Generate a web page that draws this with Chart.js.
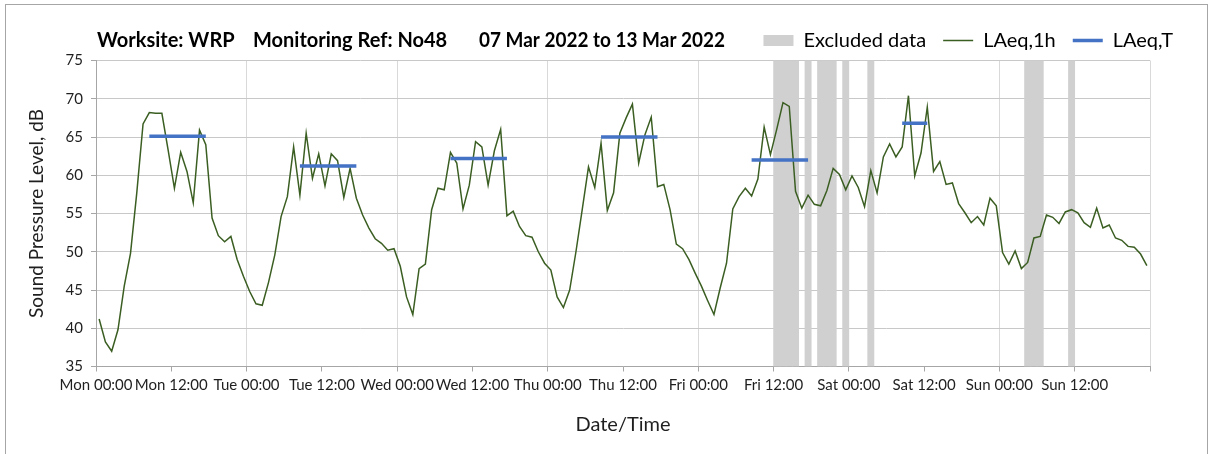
<!DOCTYPE html>
<html>
<head>
<meta charset="utf-8">
<title>Noise monitoring - WRP</title>
<script src="https://cdn.jsdelivr.net/npm/chart.js@4.4.1/dist/chart.umd.min.js"></script>
<style>
  html, body { margin: 0; padding: 0; background: #fff; overflow: hidden; }
  #frame { position: absolute; left: 5px; top: 4px; width: 1201px; height: 460px; border: 1px solid #a6a6a6; }
  #noise-chart { display: block; }
</style>
</head>
<body>
<div id="frame"><canvas id="noise-chart" width="1201" height="449"></canvas></div>
<script>
// hourly LAeq,1h readings, one array per day (00:00 .. 23:00)
const levelsMon = [41.2, 38.2, 37.0, 39.8, 45.5, 49.8, 57.7, 66.7, 68.2, 68.1, 68.1, 63.3, 58.3, 63.0, 60.5, 56.4, 65.9, 64.0, 54.4, 52.1, 51.3, 52.0, 49.0, 46.8];
const levelsTue = [44.8, 43.2, 43.0, 46.0, 49.6, 54.6, 57.2, 63.7, 57.4, 65.5, 59.6, 62.8, 58.6, 62.8, 61.9, 57.1, 60.9, 57.0, 54.8, 53.1, 51.7, 51.1, 50.2, 50.4];
const levelsWed = [48.1, 44.1, 41.8, 47.8, 48.4, 55.5, 58.3, 58.1, 63.0, 61.6, 55.6, 58.7, 64.4, 63.7, 58.7, 63.2, 66.0, 54.7, 55.3, 53.3, 52.1, 51.9, 50.0, 48.5];
const levelsThu = [47.6, 44.1, 42.7, 45.0, 50.0, 55.5, 61.1, 58.4, 64.2, 55.4, 57.7, 65.5, 67.5, 69.3, 61.6, 65.3, 67.6, 58.5, 58.8, 55.5, 51.0, 50.4, 49.0, 47.2];
const levelsFri = [45.5, 43.6, 41.8, 45.3, 48.5, 55.6, 57.2, 58.3, 57.3, 59.5, 66.3, 62.7, 66.0, 69.5, 69.0, 57.9, 55.7, 57.4, 56.2, 56.0, 58.0, 60.9, 60.1, 58.1];
const levelsSat = [59.9, 58.4, 55.9, 60.6, 57.7, 62.4, 64.1, 62.4, 63.7, 70.4, 59.9, 62.9, 68.9, 60.5, 61.8, 58.8, 59.0, 56.3, 55.1, 53.8, 54.6, 53.5, 57.0, 56.0];
const levelsSun = [49.9, 48.4, 50.1, 47.8, 48.6, 51.8, 52.0, 54.8, 54.5, 53.7, 55.2, 55.5, 55.1, 53.8, 53.2, 55.7, 53.1, 53.5, 51.8, 51.5, 50.7, 50.6, 49.7, 48.2];

// LAeq,T over each working period (first hour, last hour, level)
const periodStart = [8, 32, 56, 80, 104, 128];
const periodEnd = [17, 41, 65, 89, 113, 132];
const periodLevel = [65.1, 61.2, 62.2, 65.0, 62.0, 66.8];

// hours flagged as excluded data
const excludedHours = [108, 109, 110, 111, 113, 115, 116, 117, 119, 123, 148, 149, 150, 155];

const tickLabels = ['Mon 00:00', 'Mon 12:00', 'Tue 00:00', 'Tue 12:00', 'Wed 00:00', 'Wed 12:00', 'Thu 00:00',
  'Thu 12:00', 'Fri 00:00', 'Fri 12:00', 'Sat 00:00', 'Sat 12:00', 'Sun 00:00', 'Sun 12:00'];

const headerParts = ['Worksite: WRP', 'Monitoring Ref: No48', '07 Mar 2022 to 13 Mar 2022'];
const headerOffsets = [1, 157, 383];
const headerWidths = [144, 200, 246];

const hourly = [].concat(levelsMon, levelsTue, levelsWed, levelsThu, levelsFri, levelsSat, levelsSun);
const hourlyPoints = hourly.map((v, i) => ({x: i + 0.5, y: v}));

const periodPoints = [];
periodStart.forEach((start, i) => {
    for (let h = start; h <= periodEnd[i]; h++) {
        periodPoints.push({x: h + 0.5, y: periodLevel[i]});
    }
    periodPoints.push({x: periodEnd[i] + 1, y: null});
});

const excludedBars = hourly.map((v, i) => ({x: i + 0.5, y: excludedHours.includes(i) ? [35, 75] : null}));

// title text sits on the same row as the legend
const headerPlugin = {
    id: 'header',
    afterDraw(chart) {
        const ctx = chart.ctx;
        const box = chart.legend.legendHitBoxes[0];
        const y = box.top + box.height / 2;
        ctx.save();
        ctx.font = 'bold 20px Lato';
        ctx.fillStyle = '#000';
        ctx.textBaseline = 'middle';
        headerParts.forEach((text, i) => {
            ctx.fillText(text, chart.chartArea.left + headerOffsets[i], y, headerWidths[i]);
        });
        ctx.restore();
    }
};

Chart.defaults.font.family = 'Lato';
Chart.defaults.color = '#1f1f1f';

new Chart(document.getElementById('noise-chart'), {
    data: {
        datasets: [{
            type: 'bar',
            label: 'Excluded data',
            data: excludedBars,
            backgroundColor: '#d0d0d0',
            borderWidth: 0,
            barPercentage: 1,
            categoryPercentage: 1,
            pointStyle: 'rect',
            order: 2
        }, {
            type: 'line',
            label: 'LAeq,1h',
            data: hourlyPoints,
            borderColor: '#3b5e22',
            borderWidth: 1.5,
            pointRadius: 0,
            pointStyle: 'line',
            pointBorderColor: '#3b5e22',
            pointBorderWidth: 1.5,
            order: 1
        }, {
            type: 'line',
            label: 'LAeq,T',
            data: periodPoints,
            borderColor: '#4472c4',
            borderWidth: 3.5,
            borderCapStyle: 'butt',
            pointRadius: 0,
            pointStyle: 'line',
            pointBorderColor: '#4472c4',
            pointBorderWidth: 3.5,
            spanGaps: false,
            order: 0
        }]
    },
    options: {
        responsive: false,
        animation: false,
        layout: {padding: {top: 0, right: 17, bottom: 0, left: 0}},
        plugins: {
            legend: {
                position: 'top',
                align: 'end',
                labels: {
                    usePointStyle: true,
                    pointStyleWidth: 30,
                    boxHeight: 11,
                    padding: 17,
                    color: '#000',
                    font: {size: 20},
                    sort: (a, b) => a.datasetIndex - b.datasetIndex
                }
            },
            tooltip: {enabled: false}
        },
        scales: {
            x: {
                type: 'linear',
                min: 0,
                max: 168,
                offset: false,
                ticks: {
                    stepSize: 12,
                    autoSkip: false,
                    maxRotation: 0,
                    padding: 5,
                    font: {size: 15},
                    callback: (value) => tickLabels[value / 12] ?? ''
                },
                grid: {
                    offset: false,
                    color: (c) => (c.tick && c.tick.value > 0 && c.tick.value % 24 === 0) ? '#d9d9d9' : 'rgba(0,0,0,0)',
                    tickColor: '#a6a6a6',
                    tickLength: 5
                },
                border: {color: '#a6a6a6'},
                title: {display: true, text: 'Date/Time', font: {size: 20}, padding: {top: 0, bottom: 17}},
                afterFit: (s) => { s.height = 87.5; s.paddingRight = 57; }
            },
            y: {
                min: 35,
                max: 75,
                ticks: {stepSize: 5, padding: 8, font: {size: 15}},
                grid: {color: '#c8c8c8', tickColor: '#a6a6a6', tickLength: 5},
                border: {color: '#a6a6a6'},
                title: {display: true, text: 'Sound Pressure Level, dB', font: {size: 19}, padding: {top: 19, bottom: 0}},
                afterFit: (s) => { s.width = 90; s.paddingTop = 55.5; }
            }
        }
    },
    plugins: [headerPlugin]
});
</script>
</body>
</html>
